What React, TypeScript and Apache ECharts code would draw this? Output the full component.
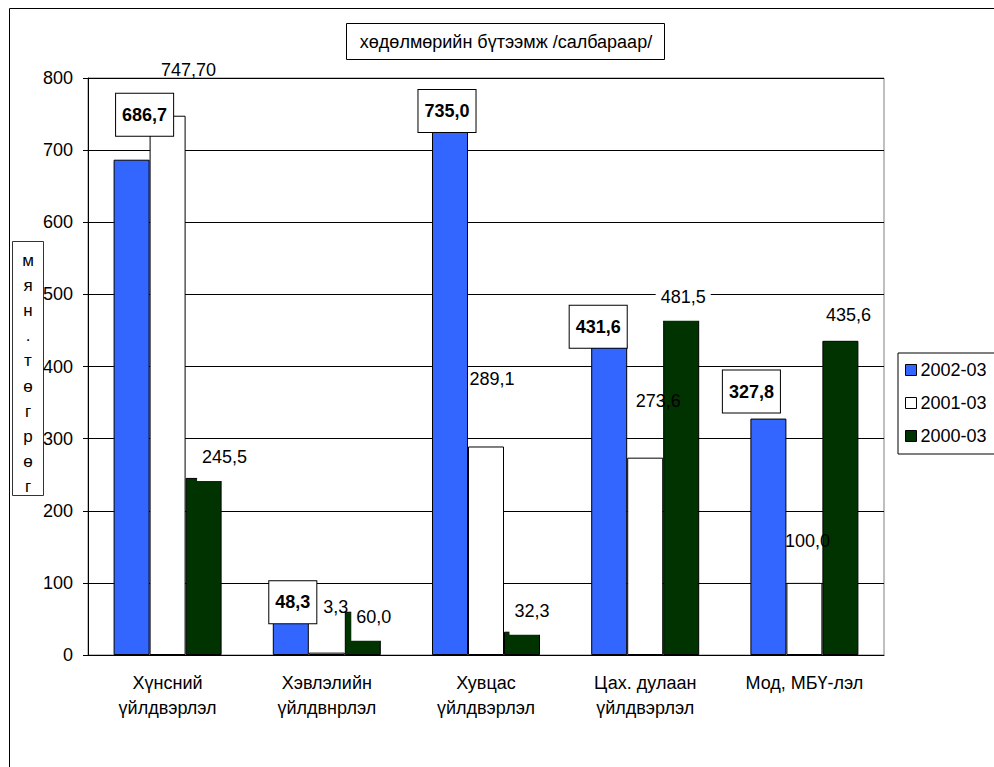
import React, { useEffect, useRef } from "react";
import * as echarts from "echarts";

const FONT = '"Liberation Sans", Arial, sans-serif';

const categories = [
  "Хүнсний\nүйлдвэрлэл",
  "Хэвлэлийн\nүйлдвнрлэл",
  "Хувцас\nүйлдвэрлэл",
  "Цах. дулаан\nүйлдвэрлэл",
  "Мод, МБҮ-лэл",
];
const seriesNames = ["2002-03", "2001-03", "2000-03"];
const values2002 = [686.7, 48.3, 735.0, 431.6, 327.8];
const values2001 = [747.7, 3.3, 289.1, 273.6, 100.0];
const values2000 = [245.5, 60.0, 32.3, 481.5, 435.6];
const decimals2001 = [2, 1, 1, 1, 1];

const yTicks = { min: 0, max: 800, interval: 100 };

// label placement (style, not data)
const offsets2002 = [[13, -24], [2, 3], [-3, 7], [-11, 4], [-17, -6]];
const offsets2001 = [[21, -36], [9, -36], [6, -57], [13, -47], [3, -32]];
const offsets2000 = [[21, 3], [11, 29], [10, 3], [2, 13], [8, -2]];

const fmt = (v: number, d: number) => v.toFixed(d).replace(".", ",");

export default function App() {
  const ref = useRef<HTMLDivElement>(null);
  useEffect(() => {
    if (!ref.current) return;
    const chart = echarts.init(ref.current, null, { renderer: "svg" });
    const option: any = {
      animation: false,
      backgroundColor: "#fff",
      textStyle: { fontFamily: FONT },
      grid: {
        left: 88,
        right: 110,
        top: 78,
        bottom: 112,
        show: true,
        borderColor: "#808080",
        borderWidth: 1,
        backgroundColor: "transparent",
      },
      xAxis: {
        type: "category",
        data: categories,
        axisLine: { lineStyle: { color: "#000", width: 1 } },
        axisTick: { length: 6, lineStyle: { color: "#000" } },
        axisLabel: {
          interval: 0,
          color: "#000",
          fontSize: 18,
          lineHeight: 25,
          margin: 15,
          fontFamily: FONT,
        },
      },
      yAxis: {
        type: "value",
        min: yTicks.min,
        max: yTicks.max,
        interval: yTicks.interval,
        axisLine: { show: true, lineStyle: { color: "#000" } },
        axisTick: { show: true, length: 5, lineStyle: { color: "#000" } },
        axisLabel: { color: "#000", fontSize: 18, margin: 15, fontFamily: FONT },
        splitLine: { lineStyle: { color: "#000", width: 1 } },
      },
      legend: {
        orient: "vertical",
        left: 898,
        top: 353,
        icon: "rect",
        itemWidth: 11,
        itemHeight: 11,
        itemGap: 15,
        padding: [8, 8, 9, 7],
        borderColor: "#000",
        borderWidth: 1,
        backgroundColor: "#fff",
        itemStyle: { borderColor: "#000", borderWidth: 1 },
        textStyle: { fontSize: 18, color: "#000", lineHeight: 18, fontFamily: FONT, padding: [0, 0, 0, -1] },
        data: seriesNames,
      },
      series: [
        {
          name: seriesNames[0],
          type: "bar",
          z: 2,
          barWidth: 36,
          barGap: "0%",
          itemStyle: { color: "#3366FF", borderColor: "#000", borderWidth: 1 },
          label: {
            show: true,
            position: "top",
            distance: 0,
            formatter: (p: any) => fmt(p.value, 1),
            fontSize: 18,
            fontWeight: "bold",
            color: "#000",
            fontFamily: FONT,
            lineHeight: 20,
            backgroundColor: "#fff",
            borderColor: "#000",
            borderWidth: 1,
            padding: [11, 6, 11, 6],
          },
          data: values2002.map((v, i) => ({ value: v, label: { offset: offsets2002[i] } })),
        },
        {
          name: seriesNames[1],
          type: "bar",
          z: 2,
          barWidth: 36,
          barGap: "0%",
          itemStyle: { color: "#fff", borderColor: "#000", borderWidth: 1 },
          label: {
            show: true,
            position: "top",
            distance: 0,
            formatter: (p: any) => fmt(p.value, decimals2001[p.dataIndex]),
            fontSize: 18,
            color: "#000",
            fontFamily: FONT,
            lineHeight: 20,
          },
          data: values2001.map((v, i) => ({ value: v, label: { offset: offsets2001[i] } })),
        },
        {
          name: seriesNames[2],
          type: "bar",
          z: 2,
          barWidth: 36,
          barGap: "0%",
          itemStyle: { color: "#003300", borderColor: "#000", borderWidth: 1 },
          label: {
            show: true,
            position: "top",
            distance: 0,
            formatter: (p: any) => fmt(p.value, 1),
            fontSize: 18,
            color: "#000",
            fontFamily: FONT,
            lineHeight: 18,
            backgroundColor: "#fff",
            padding: [6, 5, 15, 5],
          },
          data: values2000.map((v, i) => ({ value: v, label: { offset: offsets2000[i] } })),
        },
      ],
      graphic: [
        {
          type: "rect",
          z: -10,
          shape: { x: 9.5, y: 8.5, width: 1000, height: 800 },
          style: { fill: "none", stroke: "#000", lineWidth: 1 },
        },
        {
          type: "rect",
          shape: { x: 346.5, y: 23.5, width: 318, height: 36 },
          style: { fill: "#fff", stroke: "#000", lineWidth: 1 },
        },
        {
          type: "text",
          x: 506,
          y: 42,
          style: {
            text: "хөдөлмөрийн бүтээмж /салбараар/",
            fontSize: 18,
            fontFamily: FONT,
            fill: "#000",
            align: "center",
            verticalAlign: "middle",
          },
        },
        {
          type: "rect",
          shape: { x: 12.5, y: 241.5, width: 31, height: 254 },
          style: { fill: "#fff", stroke: "#333", lineWidth: 1 },
        },
        {
          type: "text",
          x: 28,
          y: 248,
          style: {
            text: "м\nя\nн\n.\nт\nө\nг\nр\nө\nг",
            fontSize: 17,
            lineHeight: 25.1,
            fontFamily: FONT,
            fill: "#000",
            align: "center",
            verticalAlign: "top",
          },
        },
      ],
    };
    chart.setOption(option);
    return () => chart.dispose();
  }, []);
  return (
    <div
      ref={ref}
      style={{ position: "fixed", left: 0, top: 0, width: 994, height: 767, background: "#fff" }}
    />
  );
}
